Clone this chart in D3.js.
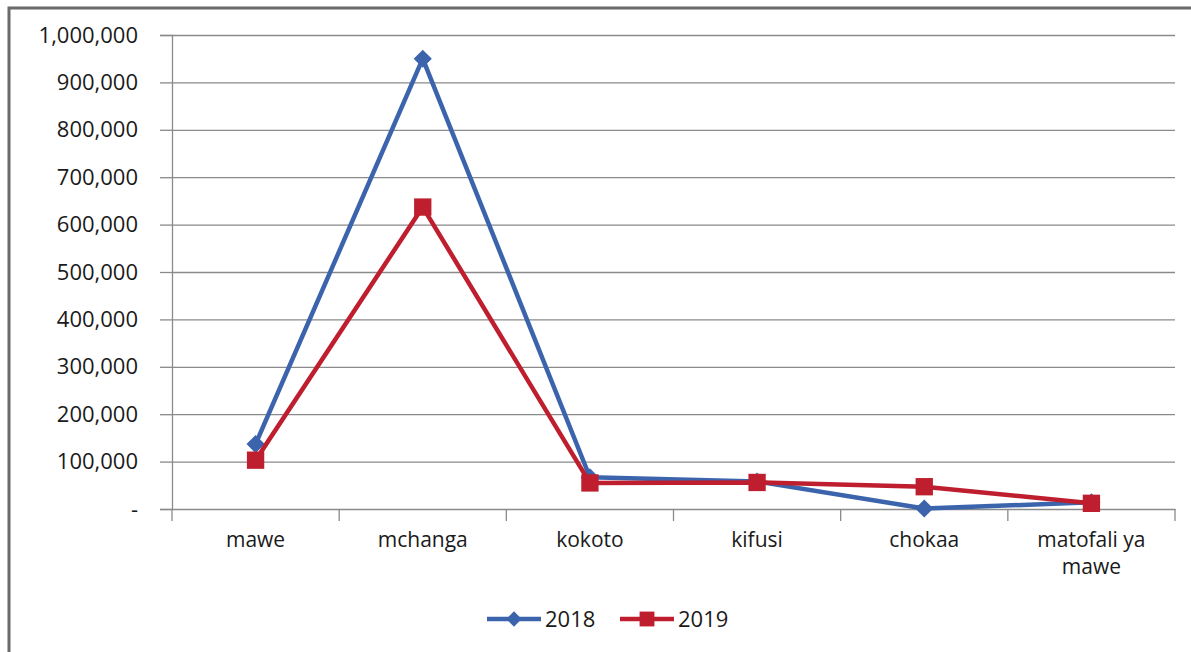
<!DOCTYPE html>
<html>
<head>
<meta charset="utf-8">
<script src="https://cdn.jsdelivr.net/npm/d3@7"></script>
<style>
  body { margin: 0; background: #fff; }
</style>
</head>
<body>
<div id="line-graph"></div>
<script>
const categories = ["mawe", "mchanga", "kokoto", "kifusi", "chokaa", "matofali ya mawe"];
const values2018 = [137000, 950000, 67000, 58000, 1000, 14000];
const values2019 = [103000, 637000, 55000, 56000, 47000, 12000];
const yTicks = [0, 100000, 200000, 300000, 400000, 500000, 600000, 700000, 800000, 900000, 1000000];

const width = 1191;
const height = 652;
const margin = { top: 35, right: 16, bottom: 143, left: 172 };
const graphW = width - margin.left - margin.right;
const graphH = height - margin.top - margin.bottom;
const font = "'Open Sans', 'Noto Sans', sans-serif";
const blue = "#3c64ad";
const red = "#be1e2d";

let svg = d3.select("#line-graph").append("svg")
    .attr("width", width)
    .attr("height", height);

// outer frame (only top and left edges visible)
svg.append("path")
    .attr("d", `M9,${height} V8 H${width}`)
    .attr("fill", "none")
    .attr("stroke", "#6b6b6b")
    .attr("stroke-width", 3);

let group = svg.append("g")
    .attr("transform", `translate(${margin.left}, ${margin.top})`);

const x = d3.scaleBand()
    .domain(categories)
    .range([0, graphW]);

const y = d3.scaleLinear()
    .domain([0, 1000000])
    .range([graphH, 0]);

// gridlines
group.append("g")
    .attr("class", "grid")
    .call(d3.axisLeft(y)
        .tickValues(yTicks.slice(1))
        .tickSize(-graphW)
        .tickFormat("")
    )
    .call(g => g.select(".domain").remove())
    .selectAll("line")
    .attr("stroke", "#8a8a8a")
    .attr("stroke-width", 1.3);

// y axis
const fmt = d3.format(",");
group.append("g")
    .style("font-family", font)
    .style("font-size", "22px")
    .call(d3.axisLeft(y)
        .tickValues(yTicks)
        .tickSize(12)
        .tickPadding(22)
        .tickFormat(d => d === 0 ? "-" : fmt(d))
    )
    .call(g => g.selectAll("line, .domain").attr("stroke", "#8a8a8a").attr("stroke-width", 1.3))
    .call(g => g.selectAll("text").attr("fill", "#1a1a1a"));

// x axis
const xAxis = group.append("g")
    .attr("transform", `translate(0, ${graphH})`)
    .style("font-family", font)
    .style("font-size", "21px")
    .call(d3.axisBottom(x).tickSize(0).tickPadding(23));
xAxis.select(".domain").attr("stroke", "#8a8a8a").attr("stroke-width", 1.3);
xAxis.selectAll("text").attr("fill", "#1a1a1a").call(wrap, 140);

// category separator ticks
xAxis.selectAll(".sep")
    .data(d3.range(categories.length + 1))
    .enter()
    .append("line")
    .attr("x1", i => i * x.bandwidth())
    .attr("x2", i => i * x.bandwidth())
    .attr("y1", 0)
    .attr("y2", 12)
    .attr("stroke", "#8a8a8a")
    .attr("stroke-width", 1.3);

const cx = d => x(d) + x.bandwidth() / 2;

function drawSeries(values, colour, shape, size) {
    const pts = categories.map((c, i) => [cx(c), y(values[i])]);
    group.append("path")
        .datum(pts)
        .attr("fill", "none")
        .attr("stroke", colour)
        .attr("stroke-width", 4.5)
        .attr("stroke-linejoin", "round")
        .attr("d", d3.line());
    group.append("g")
        .selectAll("path")
        .data(pts)
        .enter()
        .append("path")
        .attr("transform", d => `translate(${d[0]}, ${d[1]})`)
        .attr("fill", colour)
        .attr("d", d3.symbol().type(shape).size(size));
}

drawSeries(values2018, blue, d3.symbolDiamond2, 210);
drawSeries(values2019, red, d3.symbolSquare, 300);

// legend
const legend = svg.append("g")
    .style("font-family", font)
    .style("font-size", "22px");
const items = [
    { name: "2018", colour: blue, shape: d3.symbolDiamond2, size: 150, x: 487 },
    { name: "2019", colour: red, shape: d3.symbolSquare, size: 220, x: 620 }
];
items.forEach(it => {
    const lg = legend.append("g").attr("transform", `translate(${it.x}, 619)`);
    lg.append("line")
        .attr("x1", 0).attr("x2", 54)
        .attr("stroke", it.colour).attr("stroke-width", 4.5);
    lg.append("path")
        .attr("transform", "translate(27, 0)")
        .attr("fill", it.colour)
        .attr("d", d3.symbol().type(it.shape).size(it.size));
    lg.append("text")
        .attr("x", 58)
        .attr("dy", "0.35em")
        .attr("fill", "#1a1a1a")
        .text(it.name);
});

function wrap(text, width) {
    text.each(function () {
        var text = d3.select(this),
            words = text.text().split(/\s+/).reverse(),
            word,
            line = [],
            lineNumber = 0,
            lineHeight = 1.3,
            y = text.attr("y"),
            dy = parseFloat(text.attr("dy")),
            tspan = text.text(null).append("tspan").attr("x", 0).attr("y", y).attr("dy", dy + "em");
        while (word = words.pop()) {
            line.push(word);
            tspan.text(line.join(" "));
            if (tspan.node().getComputedTextLength() > width) {
                line.pop();
                tspan.text(line.join(" "));
                line = [word];
                tspan = text.append("tspan").attr("x", 0).attr("y", y).attr("dy", ++lineNumber * lineHeight + dy + "em").text(word);
            }
        }
    });
}
</script>
</body>
</html>
